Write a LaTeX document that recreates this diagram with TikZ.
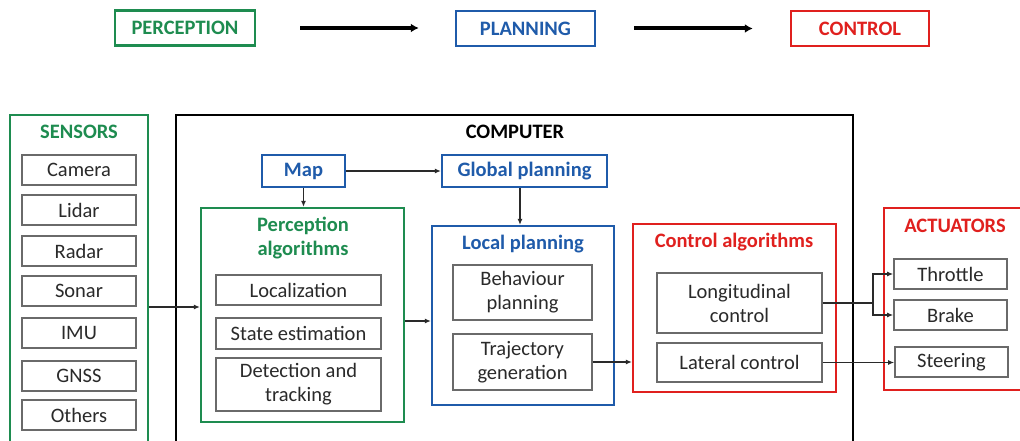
\documentclass[tikz,border=0pt]{standalone}
\usepackage{fontspec}
\setmainfont{Carlito}
\usetikzlibrary{arrows.meta}
\definecolor{pgreen}{HTML}{1E8C50}
\definecolor{pblue}{HTML}{1F5BAA}
\definecolor{pred}{HTML}{E0201E}
\definecolor{ink}{HTML}{2A2A2A}
\definecolor{edgegray}{HTML}{6A6A6A}
\begin{document}
\begin{tikzpicture}[x=1pt,y=-1pt,
  fs/.style={font=\fontsize{20.5}{24}\selectfont},
  fsb/.style={font=\fontsize{20.5}{24}\selectfont\bfseries},
  obox/.style={draw, line width=2.2pt, inner sep=0pt},
  topbox/.style={draw, line width=2.5pt, inner sep=0pt, fsb, minimum height=35},
  ibox/.style={draw=edgegray, line width=1.6pt, fill=white, inner sep=0pt, text=ink, fs, align=center},
  ttl/.style={fsb, align=center, inner sep=0pt},
  arr/.style={line width=1.6pt, draw=ink, -{Latex[length=6pt,width=5pt]}},
  bigarr/.style={line width=4pt, -{Latex[length=8pt,width=9pt]}}
]
\clip (0,0) rectangle (1020,441);
\fill[white] (0,0) rectangle (1020,441);

% top row
\node[topbox, draw=pgreen, text=pgreen, minimum width=140] (tperc) at (185,28) {PERCEPTION};
\node[topbox, draw=pblue, text=pblue, minimum width=139] (tplan) at (525.5,28.5) {PLANNING};
\node[topbox, draw=pred, text=pred, minimum width=138] (tctrl) at (860,28.5) {CONTROL};
\draw[bigarr, shorten <=44pt, shorten >=36pt] (tperc.east) -- (tplan.west |- tperc.east);
\draw[bigarr, shorten <=38pt, shorten >=37pt] (tplan.east) -- (tctrl.west |- tplan.east);

% sensors
\node[obox, draw=pgreen, minimum width=138, minimum height=346] (sensors) at (79,288) {};
\node[ttl, text=pgreen] (sensT) at (79,132) {SENSORS};
\node[ibox, minimum width=114, minimum height=30] (cam) at (79,170) {Camera};
\node[ibox, minimum width=114, minimum height=30] (lid) at (79,210) {Lidar};
\node[ibox, minimum width=114, minimum height=30] (rad) at (79,251) {Radar};
\node[ibox, minimum width=114, minimum height=30] (son) at (79,291) {Sonar};
\node[ibox, minimum width=114, minimum height=30] (imu) at (79,333) {IMU};
\node[ibox, minimum width=114, minimum height=30] (gnss) at (79,376) {GNSS};
\node[ibox, minimum width=114, minimum height=30] (oth) at (79,415) {Others};

% computer
\node[obox, draw=black, minimum width=677, minimum height=346] (comp) at (514.5,288) {};
\node[ttl, text=black] (compT) at (515,132) {COMPUTER};

\node[obox, draw=pblue, text=pblue, fsb, minimum width=83, minimum height=32] (map) at (303.5,171) {Map};
\node[obox, draw=pblue, text=pblue, fsb, minimum width=165, minimum height=32] (glob) at (524.5,171) {Global planning};

\node[obox, draw=pgreen, minimum width=203, minimum height=214] (perc) at (302.5,315) {};
\node[ttl, text=pgreen] (percT) at (303,238) {Perception\\algorithms};
\node[ibox, minimum width=165, minimum height=30] (loc) at (298.5,290) {Localization};
\node[ibox, minimum width=165, minimum height=31] (state) at (298.5,333.5) {State estimation};
\node[ibox, minimum width=165, minimum height=53] (det) at (298.5,384.5) {Detection and\\tracking};

\node[obox, draw=pblue, minimum width=182, minimum height=179] (local) at (523,315.5) {};
\node[ttl, text=pblue] (localT) at (523,244) {Local planning};
\node[ibox, minimum width=139, minimum height=55] (beh) at (522.5,292.5) {Behaviour\\planning};
\node[ibox, minimum width=139, minimum height=56] (traj) at (522.5,362) {Trajectory\\generation};

\node[obox, draw=pred, minimum width=203, minimum height=168] (ctrl) at (734.5,308) {};
\node[ttl, text=pred] (ctrlT) at (734,242) {Control algorithms};
\node[ibox, minimum width=165, minimum height=60] (lon) at (739.5,303) {Longitudinal\\control};
\node[ibox, minimum width=165, minimum height=39] (lat) at (739.5,362.5) {Lateral control};

% actuators
\node[obox, draw=pred, minimum width=146, minimum height=182] (act) at (957,299) {};
\node[ttl, text=pred] (actT) at (955,226) {ACTUATORS};
\node[ibox, minimum width=113, minimum height=30] (thr) at (950.5,274) {Throttle};
\node[ibox, minimum width=113, minimum height=30] (brk) at (950.5,315) {Brake};
\node[ibox, minimum width=113, minimum height=30] (steer) at (951.5,362) {Steering};

% connectors
\coordinate (p1) at (0,307);
\coordinate (p2) at (0,321);
\draw[arr] (sensors.east |- p1) -- (perc.west |- p1);
\draw[arr] (map.east) -- (glob.west);
\draw[arr] (map.south) -- (map.south |- perc.north);
\draw[arr] (glob.south -| 520,0) -- (local.north -| 520,0);
\draw[arr] (perc.east |- p2) -- (local.west |- p2);
\draw[arr] (traj.east) -- (ctrl.west |- traj.east);
\draw[line width=1.6pt, draw=ink] (lon.east) -- ++(50,0) coordinate (split);
\draw[arr] (split) |- (thr.west);
\draw[arr] (split) |- (brk.west);
\draw[arr] (lat.east) -- (steer.west |- lat.east);
\end{tikzpicture}
\end{document}
